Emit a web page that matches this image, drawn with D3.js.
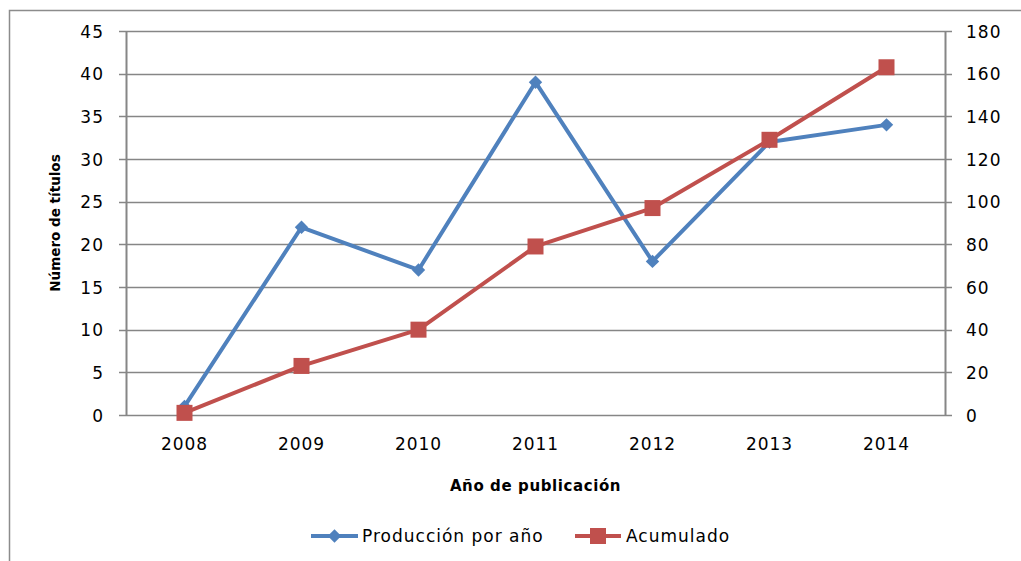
<!DOCTYPE html>
<html>
<head>
<meta charset="utf-8">
<script src="https://cdn.jsdelivr.net/npm/d3@7"></script>
<style>
  body { margin: 0; background: #fff; }
  svg text { font-family: "DejaVu Sans", "Liberation Sans", sans-serif; fill: #000; }
</style>
</head>
<body>
<div id="chart"></div>
<script>
const years = ["2008", "2009", "2010", "2011", "2012", "2013", "2014"];
const produccion = [1, 22, 17, 39, 18, 32, 34];
const acumulado = [1, 23, 40, 79, 97, 129, 163];
const leftTicks = [0, 5, 10, 15, 20, 25, 30, 35, 40, 45];
const rightTicks = [0, 20, 40, 60, 80, 100, 120, 140, 160, 180];

const W = 1021, H = 561;
const margin = { top: 31, right: 76, bottom: 146, left: 126 };
const width = W - margin.left - margin.right,
  height = H - margin.top - margin.bottom;

const blue = "#4F81BD", red = "#C0504D", gridColor = "#868686";

const svg = d3.select("#chart").append("svg")
  .attr("width", W).attr("height", H);

// outer frame (cropped on right and bottom)
svg.append("path")
  .attr("d", `M9.5,${H} V10.5 H${W}`)
  .attr("fill", "none").attr("stroke", "#8c8c8c").attr("stroke-width", 1.5);

const g = svg.append("g").attr("transform", `translate(${margin.left},${margin.top})`);

const x = d3.scaleBand().domain(years).range([0, width]);
const yL = d3.scaleLinear().domain([0, 45]).range([height, 0]);
const yR = d3.scaleLinear().domain([0, 180]).range([height, 0]);

// gridlines
g.append("g").selectAll("line").data(leftTicks).join("line")
  .attr("x1", -7).attr("x2", width + 7)
  .attr("y1", d => Math.round(yL(d)) + 0.5).attr("y2", d => Math.round(yL(d)) + 0.5)
  .attr("stroke", gridColor).attr("stroke-width", 1.5);

// left axis
const axL = g.append("g").call(d3.axisLeft(yL).tickValues(leftTicks).tickSize(0).tickPadding(22));
axL.select(".domain").attr("stroke", gridColor).attr("stroke-width", 2);
axL.selectAll("text").style("font-size", "17px").style("letter-spacing", "1px").attr("dy", "0.36em");

// right axis
const axR = g.append("g").attr("transform", `translate(${width},0)`)
  .call(d3.axisRight(yR).tickValues(rightTicks).tickSize(0).tickPadding(21));
axR.select(".domain").attr("stroke", gridColor).attr("stroke-width", 2);
axR.selectAll("text").style("font-size", "17px").style("letter-spacing", "1px").attr("dy", "0.36em");

// bottom axis
const axB = g.append("g").attr("transform", `translate(0,${height})`)
  .call(d3.axisBottom(x).tickSize(0).tickPadding(23));
axB.select(".domain").remove();
axB.selectAll("text").style("font-size", "17px").style("letter-spacing", "1px");

// axis titles
svg.append("text")
  .attr("x", margin.left + width / 2).attr("y", 491)
  .attr("text-anchor", "middle").style("font-size", "15px").style("font-weight", "bold")
  .style("letter-spacing", "0.6px")
  .text("Año de publicación");
svg.append("text")
  .attr("transform", `translate(60,${margin.top + height / 2}) rotate(-90)`)
  .attr("text-anchor", "middle").style("font-size", "13.5px").style("font-weight", "bold")
  .text("Número de títulos");

const cx = d => x(d) + x.bandwidth() / 2;

// Producción por año
const lineL = d3.line().x((d, i) => cx(years[i])).y(d => yL(d));
g.append("path").datum(produccion)
  .attr("d", lineL).attr("fill", "none").attr("stroke", blue).attr("stroke-width", 4)
  .attr("stroke-linejoin", "round");
const diamond = d3.symbol().type(d3.symbolSquare).size(90);
g.append("g").selectAll("path").data(produccion).join("path")
  .attr("d", diamond)
  .attr("transform", (d, i) => `translate(${cx(years[i])},${yL(d)}) rotate(45)`)
  .attr("fill", blue);

// Acumulado
const lineR = d3.line().x((d, i) => cx(years[i])).y(d => yR(d));
g.append("path").datum(acumulado)
  .attr("d", lineR).attr("fill", "none").attr("stroke", red).attr("stroke-width", 4)
  .attr("stroke-linejoin", "round");
g.append("g").selectAll("rect").data(acumulado).join("rect")
  .attr("x", (d, i) => cx(years[i]) - 8).attr("y", d => yR(d) - 8)
  .attr("width", 16).attr("height", 16)
  .attr("fill", red);

// legend
const legend = svg.append("g").attr("transform", "translate(0,536)");
const lg1 = legend.append("g").attr("transform", "translate(311,0)");
lg1.append("line").attr("x1", 0).attr("x2", 47).attr("stroke", blue).attr("stroke-width", 4);
lg1.append("path").attr("d", diamond).attr("transform", "translate(23.5,0) rotate(45)").attr("fill", blue);
lg1.append("text").attr("x", 51).attr("dy", "0.36em").style("font-size", "17px")
  .style("letter-spacing", "1px").text("Producción por año");

const lg2 = legend.append("g").attr("transform", "translate(575,0)");
lg2.append("line").attr("x1", 0).attr("x2", 46).attr("stroke", red).attr("stroke-width", 4);
lg2.append("rect").attr("x", 15).attr("y", -8).attr("width", 16).attr("height", 16).attr("fill", red);
lg2.append("text").attr("x", 51).attr("dy", "0.36em").style("font-size", "17px")
  .style("letter-spacing", "1px").text("Acumulado");
</script>
</body>
</html>
